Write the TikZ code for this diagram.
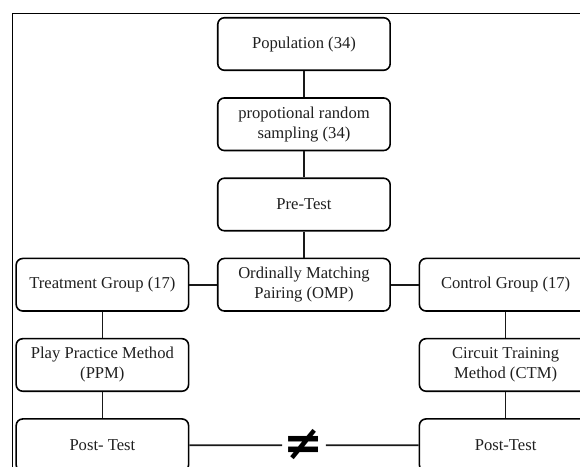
\documentclass[tikz,border=0pt]{standalone}
\usepackage{fontspec}
\setmainfont{Liberation Serif}
\newfontfamily\symbfont{DejaVu Sans}
\usetikzlibrary{positioning, calc}

\begin{document}
\begin{tikzpicture}[
  font=\fontsize{12.5}{15}\selectfont,
  node distance=0.69cm and 0.73cm,
  bloc/.style={
    draw=black,
    line width=1.2pt,
    rounded corners=5pt,
    align=center,
    minimum height=1.39cm,
    minimum width=4.56cm,
    inner sep=2pt,
    text=black!88
  },
  lien/.style={
    line width=1.2pt,
    draw=black!90
  },
  signe/.style={
    font=\symbfont\bfseries\fontsize{36}{36}\selectfont,
    inner sep=0pt,
    minimum width=1.14cm
  }
]
  \useasboundingbox (-8.04,1.164) rectangle (7.30,-11.165);
  \clip (-8.04,1.164) rectangle (7.30,-11.165);

  % cadre
  \draw[line width=0.6pt] (-7.70,0.82) rectangle (9,-13);

  \node[bloc] (pop) {Population (34)};
  \node[bloc, below=of pop] (samp) {propotional random\\sampling (34)};
  \node[bloc, below=of samp] (pre) {Pre-Test};
  \node[bloc, below=of pre] (omp) {Ordinally Matching\\Pairing (OMP)};
  \node[bloc, left=of omp] (treat) {Treatment Group (17)};
  \node[bloc, right=of omp] (ctrl) {Control Group (17)};
  \node[bloc, below=of treat] (ppm) {Play Practice Method\\(PPM)};
  \node[bloc, below=of ctrl] (ctm) {Circuit Training\\Method (CTM)};
  \node[bloc, below=of ppm] (postA) {Post- Test};
  \node[bloc, below=of ctm] (postB) {Post-Test};

  \node[signe] (diff) at ($(postA)!0.5!(postB)$) {\raisebox{-11pt}[0pt][0pt]{≠}};

  \draw[lien] (pop) -- (samp);
  \draw[lien] (samp) -- (pre);
  \draw[lien] (pre) -- (omp);
  \draw[lien] (omp) -- (treat);
  \draw[lien] (omp) -- (ctrl);
  \draw[lien] (treat) -- (ppm);
  \draw[lien] (ctrl) -- (ctm);
  \draw[lien] (ppm) -- (postA);
  \draw[lien] (ctm) -- (postB);
  \draw[lien] (postA) -- (diff);
  \draw[lien] (diff) -- (postB);
\end{tikzpicture}
\end{document}
